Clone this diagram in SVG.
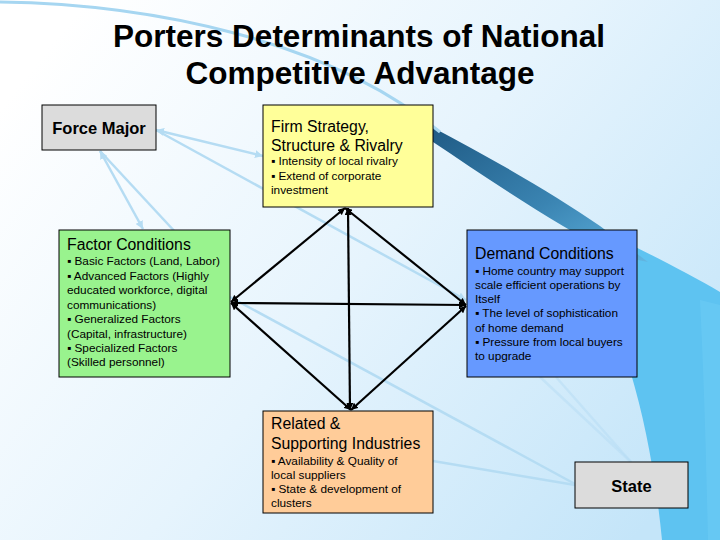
<svg xmlns="http://www.w3.org/2000/svg" width="720" height="540" viewBox="0 0 720 540">
<defs>
<linearGradient id="bg" x1="0" y1="0.2" x2="1" y2="0.8">
<stop offset="0" stop-color="#FFFFFF"/>
<stop offset="0.5" stop-color="#E6F4FD"/>
<stop offset="1" stop-color="#C4E5F9"/>
</linearGradient>
<linearGradient id="swoosh" x1="0" y1="0" x2="1" y2="1">
<stop offset="0" stop-color="#1F5A84"/>
<stop offset="0.55" stop-color="#3A84B2"/>
<stop offset="1" stop-color="#62B6E2"/>
</linearGradient>
<marker id="ab" viewBox="0 0 8 8" refX="8" refY="4" markerWidth="7" markerHeight="7" markerUnits="userSpaceOnUse" orient="auto-start-reverse">
<path d="M0,0 L8,4 L0,8 z" fill="#000"/>
</marker>
<marker id="al" viewBox="0 0 8 8" refX="8" refY="4" markerWidth="8" markerHeight="8" markerUnits="userSpaceOnUse" orient="auto-start-reverse">
<path d="M0,0 L8,4 L0,8 z" fill="#B5DCF3"/>
</marker>
<style>
.box{stroke:#000;stroke-width:1}
.t{font-family:"Liberation Sans",Arial,sans-serif;fill:#000}
.h{font-size:15.8px}
.b{font-size:11.8px}
.g{font-size:16.5px;font-weight:bold}
.title{font-size:31.5px;font-weight:bold}
.blk{stroke:#000;stroke-width:2.2;fill:none;marker-start:url(#ab);marker-end:url(#ab)}
.lb{stroke:#B5DCF3;stroke-width:2.5;fill:none}
</style>
</defs>
<rect width="720" height="540" fill="url(#bg)"/>
<path d="M560,208 C620,240 680,268 720,292 L720,540 L662,540 C652,440 630,330 560,208 Z" fill="#5EC3F1"/>
<path d="M700,300 L720,305 L720,540 L708,540 C706,450 704,380 700,300 Z" fill="#6CCBF5" opacity="0.6"/>
<path d="M430,126 C495,160 555,195 600,226 L648,262 L618,256 C555,225 490,180 430,140 Z" fill="url(#swoosh)"/>
<path d="M0,2 C150,4 330,40 440,132" stroke="#A6D6F1" stroke-width="3" fill="none"/>

<g id="title">
<text class="t title" x="359" y="47" text-anchor="middle">Porters Determinants of National</text>
<text class="t title" x="360" y="84" text-anchor="middle">Competitive Advantage</text>
</g>

<g id="connectors">
<line class="lb" x1="156" y1="130" x2="263" y2="156" marker-start="url(#al)" marker-end="url(#al)"/>
<line class="lb" x1="156" y1="130" x2="466" y2="300" marker-end="url(#al)"/>
<line class="lb" x1="100" y1="151" x2="143" y2="229" marker-start="url(#al)" marker-end="url(#al)"/>
<line class="lb" x1="100" y1="151" x2="178" y2="235"/>
<line class="lb" x1="230" y1="297" x2="575" y2="484"/>
<line class="lb" x1="433" y1="461" x2="575" y2="485"/>
<line class="lb" x1="540" y1="377" x2="631" y2="462" opacity="0.5"/>
<line class="lb" x1="556" y1="377" x2="631" y2="462" opacity="0.5"/>
<line class="blk" x1="345" y1="208" x2="231" y2="302"/>
<line class="blk" x1="345" y1="208" x2="466" y2="305"/>
<line class="blk" x1="348" y1="208" x2="350" y2="410"/>
<line class="blk" x1="231" y1="303" x2="466" y2="305"/>
<line class="blk" x1="231" y1="303" x2="351" y2="410"/>
<line class="blk" x1="466" y1="306" x2="351" y2="410"/>
</g>

<g id="force-major">
<rect class="box" x="42" y="105" width="114" height="45" fill="#DCDCDC"/>
<text class="t g" x="99" y="134" text-anchor="middle">Force Major</text>
</g>

<g id="firm-strategy">
<rect class="box" x="263" y="105" width="170" height="102" fill="#FFFF99"/>
<text class="t h" x="271" y="132">Firm Strategy,</text>
<text class="t h" x="271" y="151">Structure &amp; Rivalry</text>
<text class="t b" x="271" y="165">▪ Intensity of local rivalry</text>
<text class="t b" x="271" y="179.5">▪ Extend of corporate</text>
<text class="t b" x="271" y="194">investment</text>
</g>

<g id="factor-conditions">
<rect class="box" x="59" y="230" width="171" height="147" fill="#99F38E"/>
<text class="t h" x="67" y="249.5">Factor Conditions</text>
<text class="t b" x="67" y="265">▪ Basic Factors (Land, Labor)</text>
<text class="t b" x="67" y="279.5">▪ Advanced Factors (Highly</text>
<text class="t b" x="67" y="294">educated workforce, digital</text>
<text class="t b" x="67" y="308.5">communications)</text>
<text class="t b" x="67" y="323">▪ Generalized Factors</text>
<text class="t b" x="67" y="337.5">(Capital, infrastructure)</text>
<text class="t b" x="67" y="352">▪ Specialized Factors</text>
<text class="t b" x="67" y="366">(Skilled personnel)</text>
</g>

<g id="demand-conditions">
<rect class="box" x="467" y="230" width="170" height="147" fill="#6699FF"/>
<text class="t h" x="475" y="258.5">Demand Conditions</text>
<text class="t b" x="475" y="274.5">▪ Home country may support</text>
<text class="t b" x="475" y="288.5">scale efficient operations by</text>
<text class="t b" x="475" y="303">Itself</text>
<text class="t b" x="475" y="317">▪ The level of sophistication</text>
<text class="t b" x="475" y="331.5">of home demand</text>
<text class="t b" x="475" y="346">▪ Pressure from local buyers</text>
<text class="t b" x="475" y="360">to upgrade</text>
</g>

<g id="related-supporting">
<rect class="box" x="263" y="411" width="170" height="102" fill="#FFCC99"/>
<text class="t h" x="271" y="429">Related &amp;</text>
<text class="t h" x="271" y="448.5">Supporting Industries</text>
<text class="t b" x="271" y="464.5">▪ Availability &amp; Quality of</text>
<text class="t b" x="271" y="478.5">local suppliers</text>
<text class="t b" x="271" y="493">▪ State &amp; development of</text>
<text class="t b" x="271" y="507">clusters</text>
</g>

<g id="state">
<rect class="box" x="575" y="462" width="113" height="46" fill="#DCDCDC"/>
<text class="t g" x="631.5" y="491.5" text-anchor="middle">State</text>
</g>
</svg>
